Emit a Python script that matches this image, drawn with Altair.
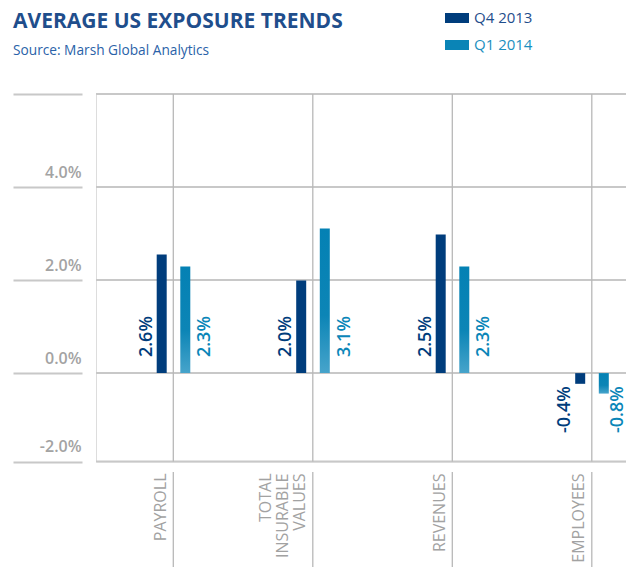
import altair as alt
import pandas as pd

# ---------------- data ----------------
categories = ["PAYROLL", "TOTAL INSURABLE VALUES", "REVENUES", "EMPLOYEES"]
series = ["Q4 2013", "Q1 2014"]
q4_values = [2.55, 1.99, 2.98, -0.23]      # bar heights as drawn
q1_values = [2.29, 3.11, 2.29, -0.44]
q4_labels = ["2.6%", "2.0%", "2.5%", "-0.4%"]  # printed labels
q1_labels = ["2.3%", "3.1%", "2.3%", "-0.8%"]
y_tick_values = [-1.9, 0.0, 2.0, 4.0, 6.0]
y_tick_labels = ["-2.0%", "0.0%", "2.0%", "4.0%", ""]

colors = ["#003D7C", "#0A84B6"]
label_colors = ["#003D7C", "#0A86B8"]
FONT = "Open Sans"

rows = []
for s, vals, labs in [(series[0], q4_values, q4_labels), (series[1], q1_values, q1_labels)]:
    for c, v, l in zip(categories, vals, labs):
        rows.append({"category": c, "series": s, "value": v, "label": l})
df = pd.DataFrame(rows)
ticks_df = pd.DataFrame({"tick": y_tick_values})
cats_df = pd.DataFrame({"category": categories})

W = 530
H = 367.5
GRID = "#C8C8C8"
VLINE = "#B8B8B8"
LINE_H = 17

y_label_expr = " : ".join(
    f"datum.value == {v} ? '{l}'" for v, l in zip(y_tick_values, y_tick_labels)
) + " : ''"

x_scale = alt.Scale(domain=categories, range=[7.55, 565.55], paddingInner=0, paddingOuter=0)
y_scale = alt.Scale(domain=[y_tick_values[0], y_tick_values[-1]], nice=False, zero=False)

x_axis = alt.Axis(
    title=None, domain=False, ticks=False, tickSize=0, grid=False,
    labelAngle=270, labelAlign="right", labelBaseline="alphabetic",
    labelExpr="split(datum.label, ' ')", labelLineHeight=LINE_H,
    labelPadding=11.5,
    labelOffset={"expr": f"-7.5 - {LINE_H} * (length(split(datum.value, ' ')) - 1)"},
    labelFont=FONT, labelFontSize=16,
    labelColor="#A2A2A2", labelLimit=300,
)
y_axis = alt.Axis(
    title=None, domain=False, grid=False, values=y_tick_values,
    ticks=True, tickSize=69, tickWidth=2, tickColor=GRID, offset=14,
    labelPadding=-68, labelAlign="right", labelBaseline="alphabetic",
    labelOffset=-10, labelExpr=y_label_expr, labelFont=FONT,
    labelFontSize=16, labelFontWeight=600, labelColor="#A3A3A3",
)

X = alt.X("category:N", scale=x_scale, axis=x_axis, title=None)
Xs = alt.X("category:N", title=None)

# horizontal grid lines
hgrid = alt.Chart(ticks_df).mark_rule(color=GRID, strokeWidth=2).encode(
    y=alt.Y("tick:Q", scale=y_scale, axis=y_axis, title=None),
    x=alt.value(0), x2=alt.value(W),
)

# vertical category lines (in plot, and in the label area)
vgrid1 = alt.Chart(cats_df).mark_rule(color=VLINE, strokeWidth=1.3).encode(
    x=X, y=alt.value(0), y2=alt.value(H)
)
vgrid2 = alt.Chart(cats_df).mark_rule(color=VLINE, strokeWidth=1.3).encode(
    x=Xs, y=alt.value(H + 10.5), y2=alt.value(H + 130)
)

base = alt.Chart(df)

legend = alt.Legend(
    orient="none", legendX=349, legendY=-88, title=None, padding=0,
    direction="vertical", symbolType="M-1,-0.4167H1V0.4167H-1Z", symbolSize=576,
    symbolStrokeWidth=0, labelFont=FONT, labelFontSize=15, labelOffset=5,
    rowPadding=7,
    labelColor={"expr": f"datum.label == '{series[0]}' ? '#1F4E8C' : '#1A8FC0'"},
)

bars_q4 = base.transform_filter(alt.datum.series == series[0]).mark_bar(
    width=10, xOffset=-11.6
).encode(
    x=Xs, y=alt.Y("value:Q", title=None),
    color=alt.Color("series:N", scale=alt.Scale(domain=series, range=colors), legend=legend),
)

teal_grad = alt.LinearGradient(
    gradient="linear",
    stops=[
        alt.GradientStop(color="#0481B4", offset=0),
        alt.GradientStop(color="#0C85B6", offset=0.6),
        alt.GradientStop(color="#47A4CB", offset=1),
    ],
    x1=0, x2=0, y1=0, y2=1,
)
bars_q1 = base.transform_filter(alt.datum.series == series[1]).mark_bar(
    width=10, xOffset=12, color=teal_grad
).encode(x=Xs, y=alt.Y("value:Q", title=None))


def labels(s, color, x_off, baseline, positive):
    cond = (alt.datum.series == s) & ((alt.datum.value >= 0) if positive else (alt.datum.value < 0))
    return base.transform_filter(cond).mark_text(
        angle=270, align="left" if positive else "right",
        dx=16 if positive else -13, xOffset=x_off, baseline=baseline,
        font=FONT, fontSize=18, fontWeight=600, color=color,
    ).encode(x=Xs, y=alt.datum(0), text="label:N")


text_layers = [
    labels(series[0], label_colors[0], -21.5, "alphabetic", True),
    labels(series[0], label_colors[0], -21.5, "alphabetic", False),
    labels(series[1], label_colors[1], 23, "top", True),
    labels(series[1], label_colors[1], 17, "top", False),
]

chart = alt.layer(hgrid, vgrid1, vgrid2, bars_q4, bars_q1, *text_layers).properties(
    width=W, height=H,
    autosize=alt.AutoSizeParams(type="none"),
    padding={"left": 88, "top": 86, "right": 0, "bottom": 106},
    title=alt.TitleParams(
        text="AVERAGE US EXPOSURE TRENDS",
        subtitle="Source: Marsh Global Analytics",
        anchor="start", frame="group", dx=-83, dy=52, offset=0,
        font=FONT, fontSize=21, fontWeight="bold", color="#1F4E8C",
        subtitleFont=FONT, subtitleFontSize=13.7, subtitleColor="#2A62A8",
        subtitlePadding=12.7,
    ),
).configure_view(stroke=None).configure(font=FONT)

chart.save("out.html", embed_options={"renderer": "svg", "actions": False})
